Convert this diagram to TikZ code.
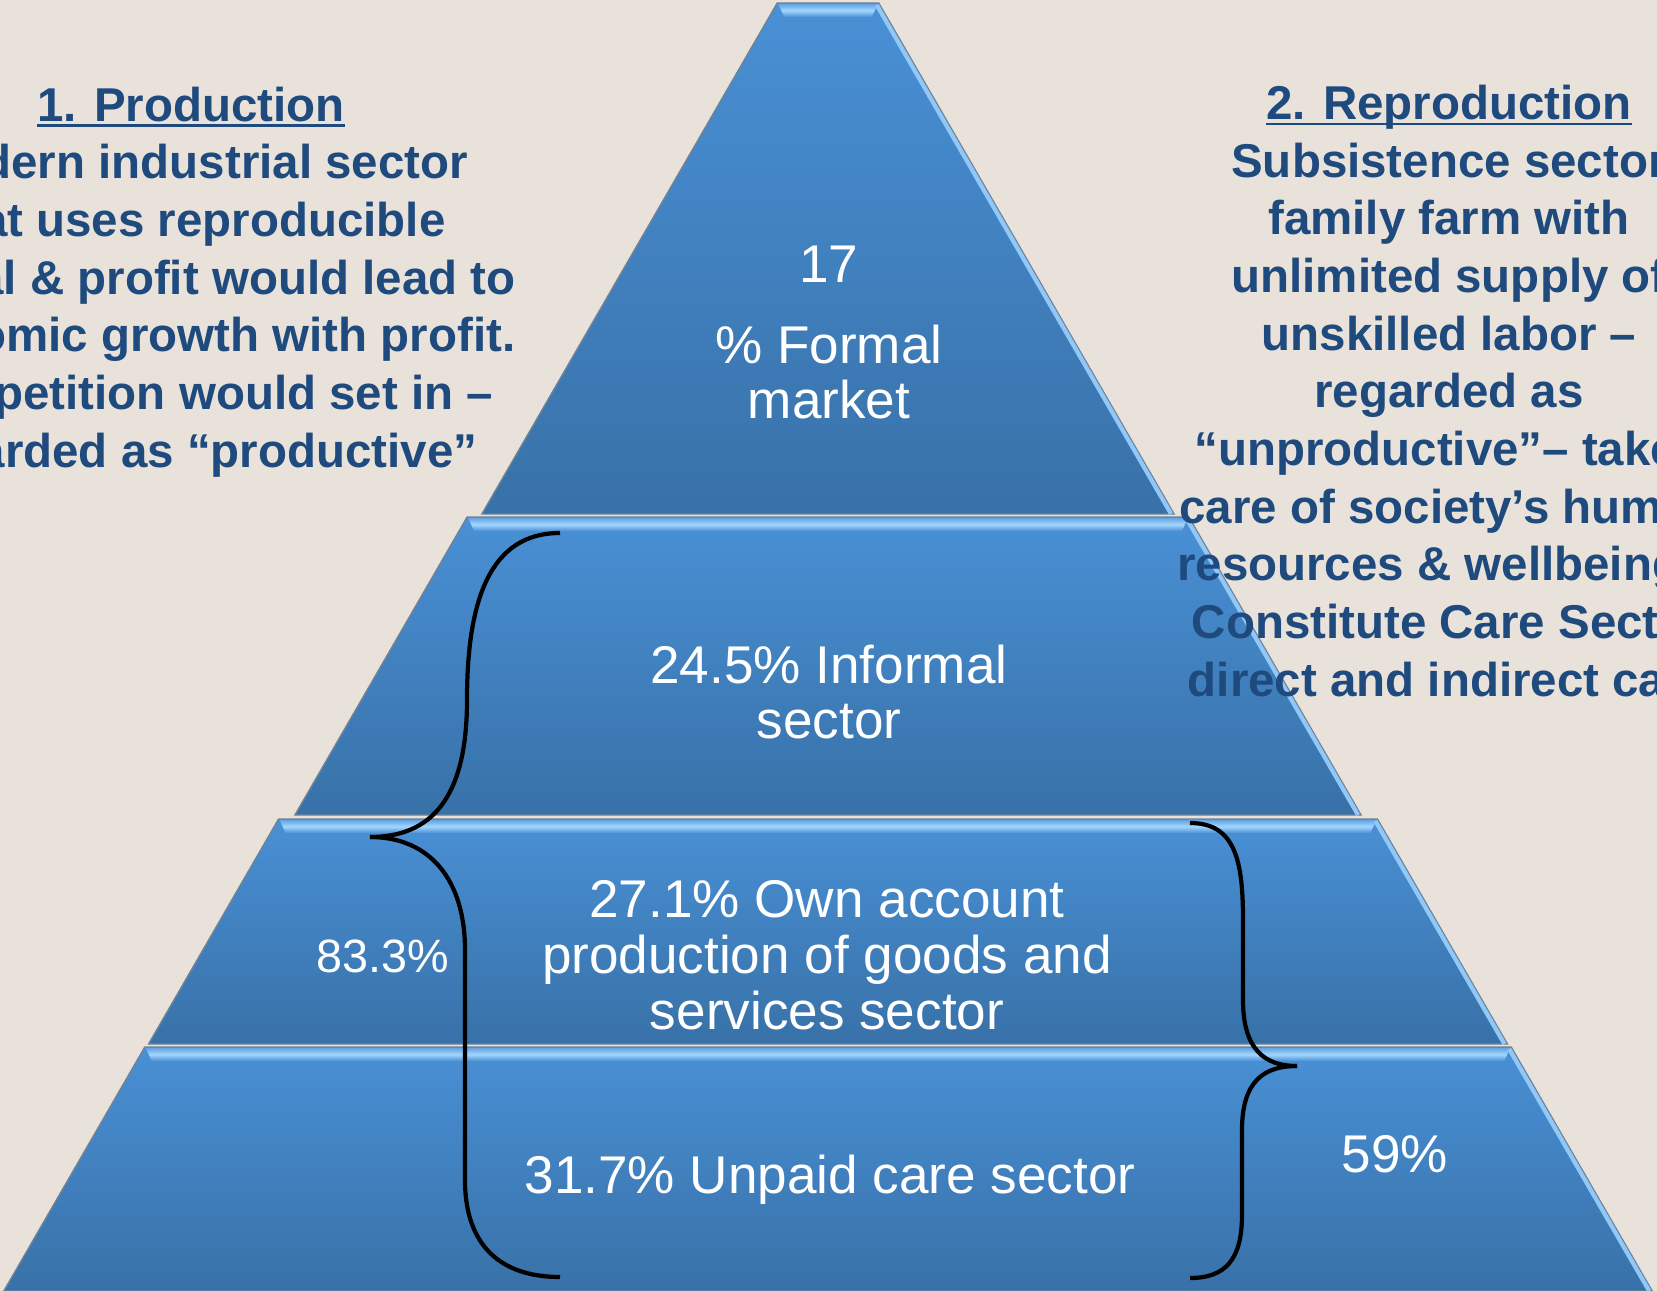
\documentclass[tikz,border=0pt]{standalone}
\usepackage{fontspec}
\setmainfont{Liberation Sans}

\definecolor{paper}{HTML}{E9E2DA}
\definecolor{tierTop}{HTML}{4990D5}
\definecolor{tierBot}{HTML}{3871A8}
\definecolor{tierHi}{HTML}{A3D6FF}
\definecolor{tierEdge}{HTML}{6F8398}
\definecolor{inkBlue}{HTML}{1F4A7E}

% underlined heading, rule just under the baseline
\newcommand\sidehead[1]{\setbox0=\hbox{#1}\rlap{\rule[-0.12em]{\wd0}{0.055em}}\box0}

\tikzset{
  sidetext/.style={font=\fontsize{13.5}{16.4}\selectfont\bfseries, text=inkBlue,
    align=center, inner sep=0pt},
  tiertext/.style={font=\fontsize{15.1}{15.9}\selectfont, text=white,
    align=center, inner sep=0pt},
  brace/.style={line width=1.2pt, black},
}

\begin{document}
\begin{tikzpicture}[x=0.01cm, y=-0.01cm]
  \useasboundingbox (0,0) rectangle (1657,1291);
  \clip (0,0) rectangle (1657,1291);
  \fill[paper] (0,0) rectangle (1657,1291);

  % pyramid tiers: top y / bottom y / offset of the left slope
  \foreach \yt/\yb/\o in {3/514/779, 517/815/766, 819/1044/752, 1047/1291/750}{
    \pgfmathsetmacro\xtl{\o-0.578*\yt}
    \pgfmathsetmacro\xtr{1656-\xtl}
    \pgfmathsetmacro\xbl{\o-0.578*\yb}
    \pgfmathsetmacro\xbr{1656-\xbl}
    \pgfmathsetmacro\ybev{\yt+14}
    \shade[top color=tierTop, bottom color=tierBot, draw=tierEdge, line width=0.4pt]
      (\xtl,\yt) -- (\xtr,\yt) -- (\xbr,\yb) -- (\xbl,\yb) -- cycle;
    % bevel along the top
    \shade[top color=tierTop!70!tierHi, bottom color=tierTop, middle color=tierHi]
      (\xtl+1,\yt+1) -- (\xtr-1,\yt+1)
      -- ({1656-\o+0.578*\ybev-15},\ybev) -- ({\o-0.578*\ybev+15},\ybev) -- cycle;
    % light right-hand edge
    \draw[tierHi!80!tierTop, line width=1.2pt] (\xtr-2,\yt+2) -- (\xbr-3,\yb);
  }

  % tier labels
  \node[tiertext] (formalNum) at (829,264) {17};
  \node[tiertext] (formal) at (829,372) {\% Formal\\market};
  \node[tiertext] (informal) at (829,692) {24.5\% Informal\\sector};
  \node[tiertext] (ownAcc) at (827,955) {27.1\% Own account\\production of goods and\\services sector};
  \node[tiertext] (unpaid) at (830,1180) {31.7\% Unpaid care sector};
  \node[tiertext, font=\fontsize{13.3}{14}\selectfont] (share833) at (383,956) {83.3\%};
  \node[tiertext] (share59) at (1395,1154) {59\%};

  % side notes
  \node[sidetext] (prodText) at (191,282) {\sidehead{1. Production}\\Modern industrial sector\\that uses reproducible\\capital \& profit would lead to\\economic growth with profit.\\Competition would set in –\\regarded as “productive”};
  \node[sidetext] (reproText) at (1449,391) {\sidehead{2. Reproduction}\\Subsistence sector\\family farm with\\unlimited supply of\\unskilled labor –\\regarded as\\“unproductive”– takes\\care of society’s human\\resources \& wellbeing –\\Constitute Care Sector\\direct and indirect care};

  % braces
  \coordinate (lbTop) at (560,533);
  \coordinate (lbTip) at (370,837);
  \coordinate (lbBot) at (560,1277);
  \coordinate (rbTop) at (1190,823);
  \coordinate (rbTip) at (1297,1066);
  \coordinate (rbBot) at (1190,1278);
  \draw[brace] (lbTop) .. controls (490,533) and (467,600) .. (467,700)
    .. controls (467,800) and (430,837) .. (lbTip);
  \draw[brace] (lbTip) .. controls (430,837) and (465,880) .. (465,950)
    -- (465,1180) .. controls (465,1245) and (500,1277) .. (lbBot);
  \draw[brace] (rbTop) .. controls (1235,823) and (1243,860) .. (1243,920)
    -- (1243,1000) .. controls (1243,1050) and (1265,1066) .. (rbTip);
  \draw[brace] (rbTip) .. controls (1265,1066) and (1242,1080) .. (1242,1130)
    -- (1242,1215) .. controls (1242,1260) and (1225,1278) .. (rbBot);
\end{tikzpicture}
\end{document}
